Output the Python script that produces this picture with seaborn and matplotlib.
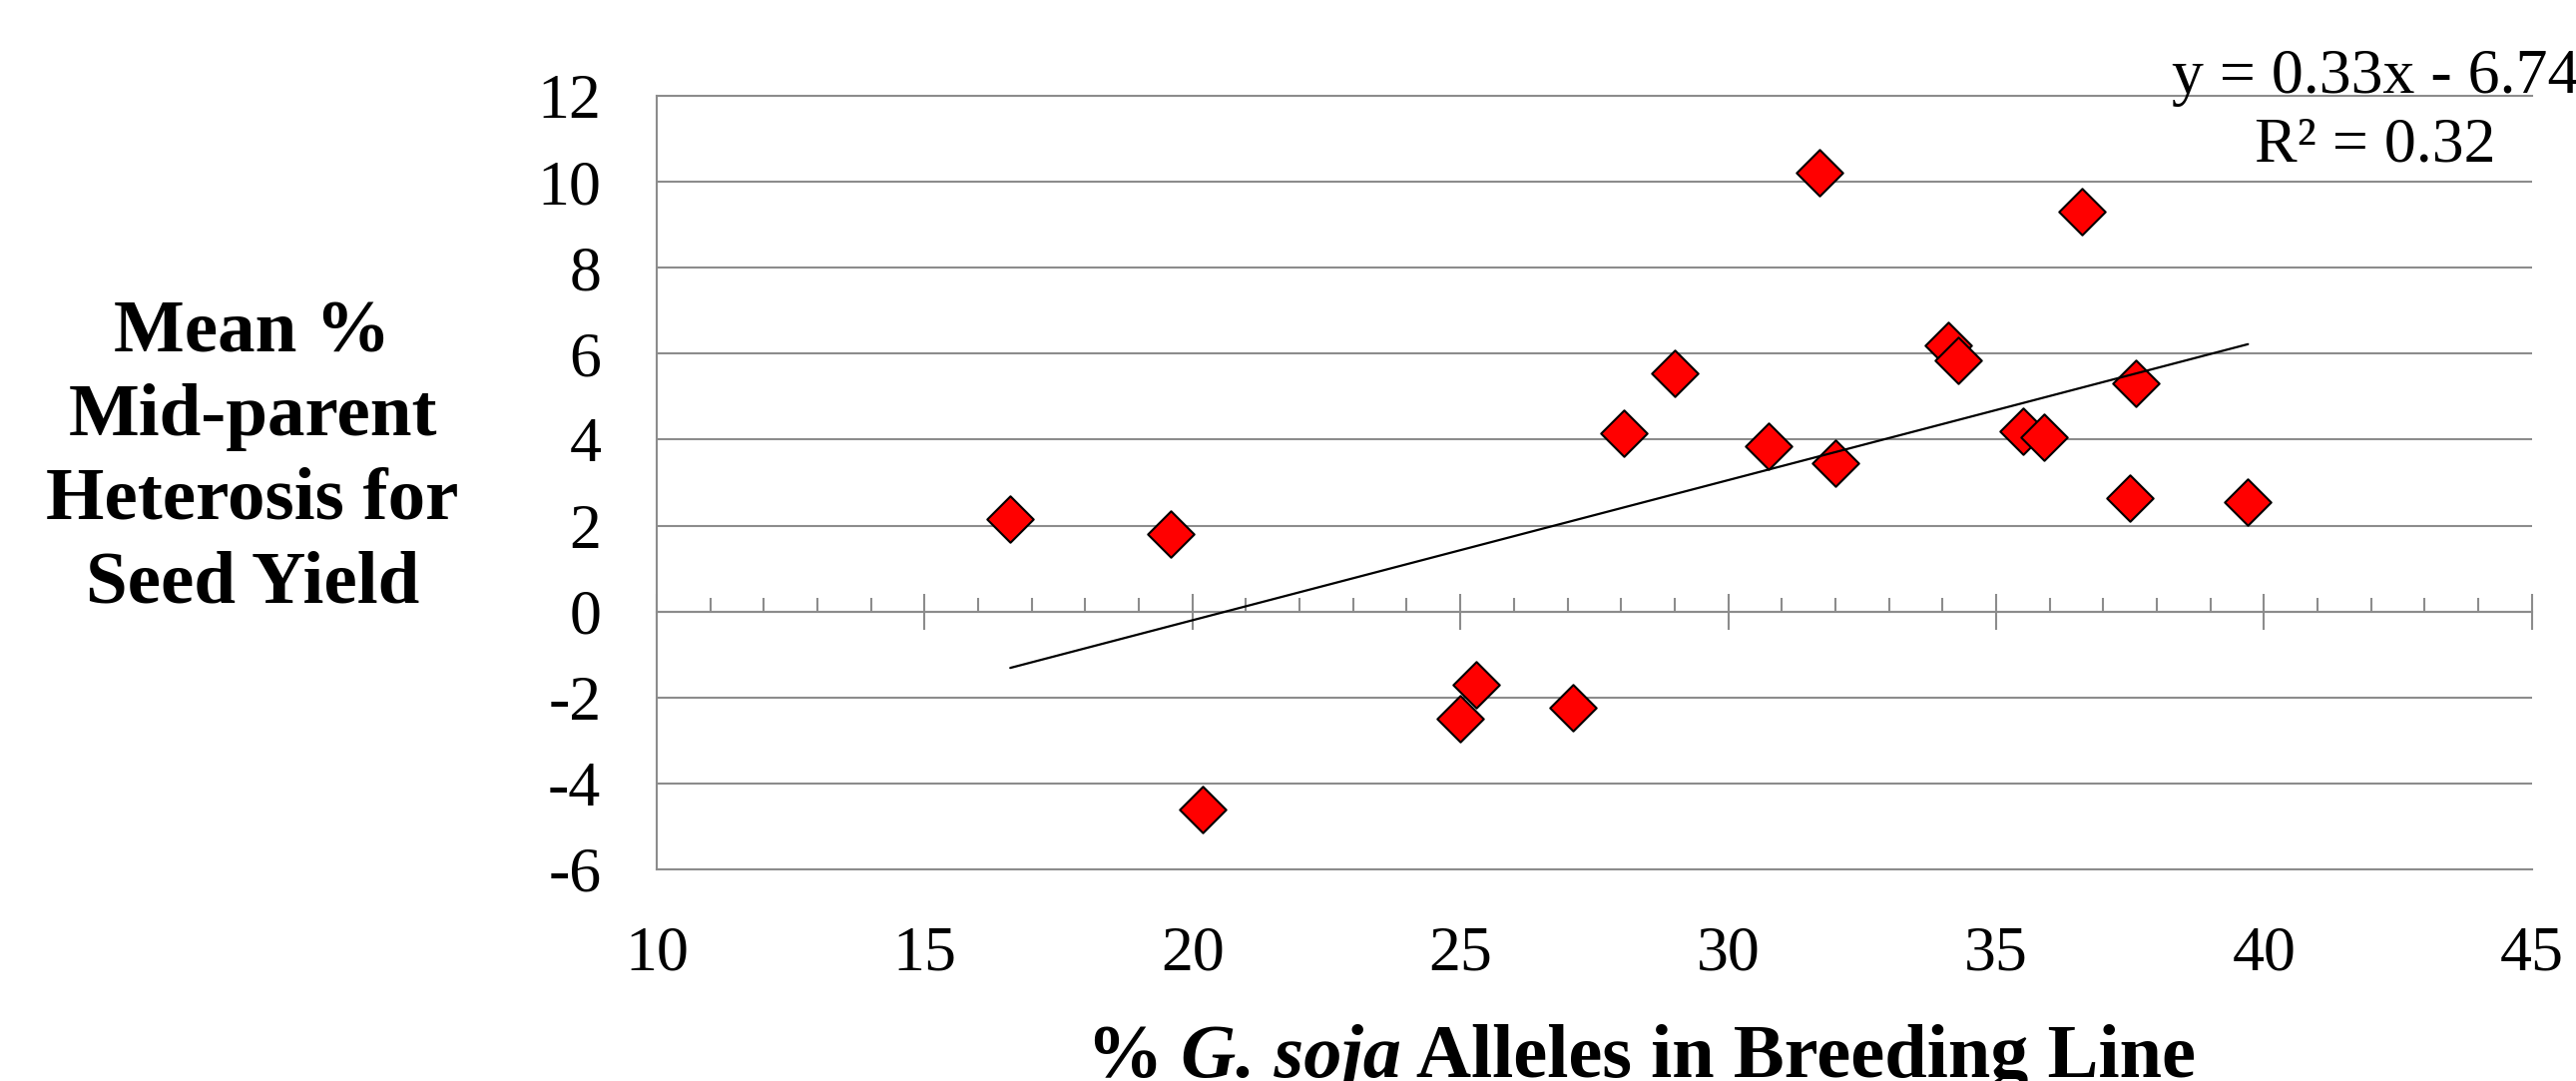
import numpy as np
import pandas as pd
import matplotlib
matplotlib.use("Agg")
import matplotlib.pyplot as plt
from matplotlib.ticker import MultipleLocator, NullFormatter
import seaborn as sns

# ---- data ----
gsoja_pct = [16.6, 19.6, 20.2, 25.0, 25.3, 27.1, 28.05, 29.0, 30.75, 31.7,
             32.0, 34.1, 34.3, 35.5, 35.9, 36.6, 37.6, 37.5, 39.7]
heterosis = [2.15, 1.8, -4.6, -2.5, -1.7, -2.25, 4.15, 5.55, 3.85, 10.2,
             3.45, 6.2, 5.85, 4.2, 4.05, 9.3, 5.3, 2.65, 2.55]
x_ticks = [10, 15, 20, 25, 30, 35, 40, 45]
y_ticks = [-6, -4, -2, 0, 2, 4, 6, 8, 10, 12]
eq_text = "y = 0.33x - 6.74"
r2_text = "R² = 0.32"
x_label_parts = ["%", " G. soja", " Alleles in Breeding Line"]
y_label = "Mean %\nMid-parent\nHeterosis for\nSeed Yield"

df = pd.DataFrame({"x": gsoja_pct, "y": heterosis})

sns.set_theme(style="white")
plt.rcParams["font.family"] = ["Liberation Serif", "DejaVu Serif"]
plt.rcParams["text.color"] = "black"
plt.rcParams["xtick.labelcolor"] = "black"
plt.rcParams["ytick.labelcolor"] = "black"
plt.rcParams["axes.labelcolor"] = "black"

GRAY = "#8c8c8c"

fig = plt.figure(figsize=(25.81, 10.83), dpi=100)
ax = fig.add_axes([0.2549, 0.1958, 0.7280, 0.7156])

sns.scatterplot(data=df, x="x", y="y", ax=ax, marker="D", s=560,
                color="#ff0000", edgecolor="black", linewidth=1.5, zorder=3)
sns.regplot(data=df, x="x", y="y", ax=ax, scatter=False, ci=None, truncate=True,
            line_kws=dict(color="black", lw=1.6, zorder=4))

ax.set_xlim(10, 45)
ax.set_ylim(-6, 12)
ax.set_xticks(x_ticks)
ax.set_yticks(y_ticks)
ax.set_xticklabels([str(t) for t in x_ticks])
ax.set_yticklabels([str(t) for t in y_ticks])
ax.set_xlabel("")
ax.set_ylabel("")
ax.tick_params(axis="x", length=0, pad=41, labelsize=46, labelcolor="black")
ax.tick_params(axis="y", length=0, pad=40, labelsize=46, labelcolor="black")

ax.grid(axis="y", color=GRAY, lw=1.5)
ax.grid(axis="x", visible=False)
for side in ["top", "bottom", "left"]:
    ax.spines[side].set_color(GRAY)
    ax.spines[side].set_linewidth(1.5)
ax.spines["right"].set_visible(False)

# horizontal axis crossing at y = 0 with tick marks
sec = ax.secondary_xaxis(6 / 18)
sec.set_xticks(x_ticks)
sec.xaxis.set_minor_locator(MultipleLocator(1))
sec.xaxis.set_major_formatter(NullFormatter())
sec.xaxis.set_minor_formatter(NullFormatter())
sec.tick_params(which="major", direction="inout", length=26.5, width=1.5, color=GRAY)
sec.tick_params(which="minor", direction="in", length=10, width=1.5, color=GRAY)
sec.spines["bottom"].set_color(GRAY)
sec.spines["bottom"].set_linewidth(1.5)

# trendline equation
fig.text(2584 / 2581, 1 - 93 / 1083, eq_text, ha="right", va="baseline",
         fontsize=46, color="black")
fig.text(2380 / 2581, 1 - 161 / 1083, r2_text, ha="center", va="baseline",
         fontsize=46, color="black")

# y axis title
fig.text(253 / 2581, 1 - 460 / 1083, y_label, ha="center", va="center",
         fontsize=54, fontweight="bold", linespacing=1.30, color="black")

# x axis title: plain bold + bold italic + plain bold, chained
t1 = fig.text(1088 / 2581, 1 - 1079 / 1083, x_label_parts[0], ha="left",
              va="baseline", fontsize=55, fontweight="bold", color="black")
t2 = ax.annotate(x_label_parts[1], xy=(1, 0), xycoords=t1, ha="left", va="bottom",
                 fontsize=55, fontweight="bold", fontstyle="italic", color="black",
                 annotation_clip=False)
t3 = ax.annotate(x_label_parts[2], xy=(1, 0), xycoords=t2, ha="left", va="bottom",
                 fontsize=55, fontweight="bold", color="black",
                 annotation_clip=False)

fig.savefig("out.png", dpi=100)
